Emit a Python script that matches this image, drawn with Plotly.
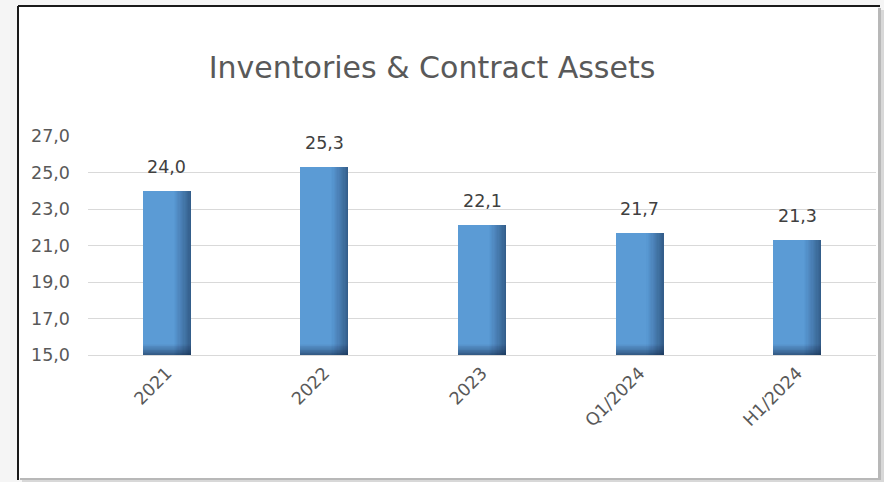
import plotly.graph_objects as go

# Inventories & contract assets per reporting period
categories = ["2021", "2022", "2023", "Q1/2024", "H1/2024"]
values = [24.0, 25.3, 22.1, 21.7, 21.3]
y_ticks = [15.0, 17.0, 19.0, 21.0, 23.0, 25.0, 27.0]

W, H = 884, 482
L, R, T, B = 88, 8, 136, 127
PW, PH = W - L - R, H - T - B

BAR_W = 0.305
BASE = 15.0
BLUE = "#5B9BD5"
SHADE = "rgba(18,38,66,{a})"
FONT = "DejaVu Sans"
GREY = "#595959"


def px(x):
    return (x - L) / PW


def py(y):
    return (H - B - y) / PH


fig = go.Figure()

# main bars
fig.add_trace(go.Bar(
    x=categories, y=values, width=BAR_W, offset=-BAR_W / 2,
    marker=dict(color=BLUE, line=dict(width=0)),
    hoverinfo="skip", showlegend=False,
))

# darker gradient towards the right edge of each bar
n_side = 14
for i in range(n_side):
    sw = BAR_W * 0.36 * (n_side - i) / n_side
    fig.add_trace(go.Bar(
        x=categories, y=values, width=sw, offset=BAR_W / 2 - sw,
        marker=dict(color=SHADE.format(a=0.025 + 0.003 * i), line=dict(width=0)),
        hoverinfo="skip", showlegend=False,
    ))

# darker gradient towards the bottom of each bar
n_bot = 14
for i in range(n_bot):
    h = 0.6 * (n_bot - i) / n_bot
    fig.add_trace(go.Bar(
        x=categories, y=[h] * len(values), base=BASE, width=BAR_W, offset=-BAR_W / 2,
        marker=dict(color=SHADE.format(a=0.03 + 0.003 * i), line=dict(width=0)),
        hoverinfo="skip", showlegend=False,
    ))

# value labels above the bars (positioned by category index)
annotations = [
    dict(x=i, y=v, xref="x", yref="y", text=f"{v:.1f}".replace(".", ","),
         showarrow=False, yshift=24, yanchor="middle",
         font=dict(size=17.5, color="#404040", family=FONT))
    for i, v in enumerate(values)
]

shapes = [
    # chart frame
    dict(type="rect", xref="paper", yref="paper", layer="below",
         x0=px(18), x1=px(878), y0=py(478), y1=py(6),
         fillcolor="white", line=dict(width=0)),
    # right and bottom drop shadow
    dict(type="rect", xref="paper", yref="paper", layer="below",
         x0=px(878), x1=px(881), y0=py(480), y1=py(8),
         fillcolor="#b8b8b8", line=dict(width=0)),
    dict(type="rect", xref="paper", yref="paper", layer="below",
         x0=px(881), x1=px(884), y0=py(482), y1=py(10),
         fillcolor="#d8d8d8", line=dict(width=0)),
    dict(type="rect", xref="paper", yref="paper", layer="below",
         x0=px(20), x1=px(881), y0=py(480), y1=py(478),
         fillcolor="#b8b8b8", line=dict(width=0)),
    dict(type="rect", xref="paper", yref="paper", layer="below",
         x0=px(22), x1=px(884), y0=py(482), y1=py(480),
         fillcolor="#d8d8d8", line=dict(width=0)),
    # dark top and left border
    dict(type="line", xref="paper", yref="paper",
         x0=px(18), x1=px(880), y0=py(6), y1=py(6),
         line=dict(color="#1a1a1a", width=2)),
    dict(type="line", xref="paper", yref="paper",
         x0=px(18), x1=px(18), y0=py(6), y1=py(480),
         line=dict(color="#1a1a1a", width=2)),
]

fig.update_layout(
    width=W, height=H,
    margin=dict(l=L, r=R, t=T, b=B, pad=0),
    paper_bgcolor="#f5f5f5",
    plot_bgcolor="rgba(0,0,0,0)",
    barmode="overlay",
    bargap=0,
    separators=",.",
    shapes=shapes,
    annotations=annotations,
    title=dict(
        text="Inventories & Contract Assets",
        xref="container", yref="container",
        x=432 / W, y=1 - 67 / H, xanchor="center", yanchor="middle",
        font=dict(size=30, color=GREY, family=FONT),
    ),
    font=dict(family=FONT, color=GREY),
    xaxis=dict(
        type="category", categoryorder="array", categoryarray=categories,
        range=[-0.5, len(categories) - 0.5], autorange=False,
        tickangle=-45, tickfont=dict(size=17.5, color=GREY, family=FONT),
        showgrid=False, showline=True, linecolor="#d9d9d9", linewidth=1,
        ticks="", zeroline=False,
    ),
    yaxis=dict(
        range=[15, 27], autorange=False, tickvals=y_ticks, tickformat=".1f",
        tickfont=dict(size=17.5, color=GREY, family=FONT),
        showgrid=True, gridcolor="#d9d9d9", gridwidth=1,
        showline=False, zeroline=False, ticks="", ticklabelstandoff=17,
    ),
)

fig.write_html("out.html")
